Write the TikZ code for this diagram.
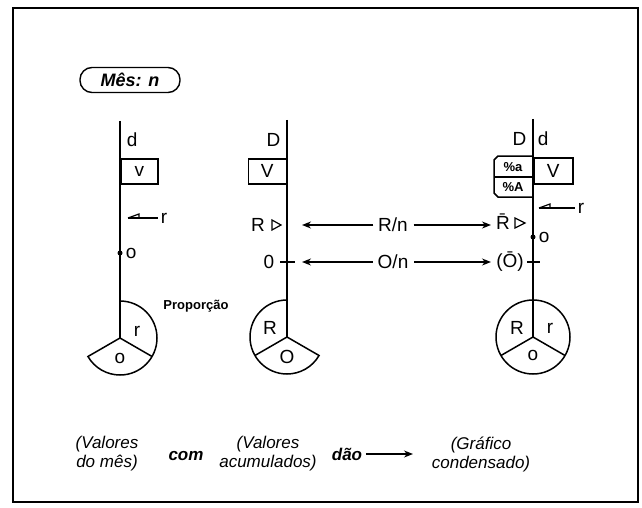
\documentclass[tikz,border=0pt]{standalone}
\usepackage{fontspec}
\setmainfont{Liberation Sans}
\usetikzlibrary{arrows.meta}
\begin{document}
\begin{tikzpicture}[x=1pt,y=1pt,line width=1.5pt,
  lbl/.style={font=\fontsize{19}{21}\selectfont,inner sep=0pt},
  small/.style={font=\bfseries\fontsize{13}{14}\selectfont,inner sep=0pt},
  boxv/.style={draw,lbl,minimum height=25pt},
  captxt/.style={font=\itshape\fontsize{17}{19}\selectfont,align=center,inner sep=0pt},
  captb/.style={font=\bfseries\itshape\fontsize{17}{19}\selectfont,inner sep=0pt},
  arr/.style={-{Stealth[length=9pt,width=7pt]},line width=1.4pt}]
\useasboundingbox (0,0) rectangle (642,-508);
\draw[line width=1.6pt] (13,-8) rectangle (638,-502);
% title
\node[draw,rounded corners=12pt,minimum width=100pt,minimum height=25pt,
  font=\bfseries\itshape\fontsize{18}{20}\selectfont,line width=1.4pt] (mes) at (130,-80) {Mês: n};
% ---------- left column
\coordinate (lt) at (120,-121);
\coordinate (lc) at (120,-338);
\draw (lt) -- (lc);
\node[lbl,anchor=west] (ld) at (126,-140) {d};
\node[boxv,minimum width=37pt,anchor=north west] (lv) at (120,-158) {v};
\coordinate (lrt) at (128,-218);
\node[lbl,anchor=west] (lr) at (160,-218) {r};
\draw[line width=1.2pt] (lrt) -- ++(11,4) -- ++(0,-4);
\draw[line width=1.2pt] (lrt) -- ([xshift=-2pt]lr.west);
\fill (120,-253) circle (2.5pt);
\node[lbl,anchor=west] (lo) at (125,-253) {o};
\draw (lc) ++(90:37) arc[start angle=90,end angle=-150,radius=37] -- (lc) -- ++(-30:37);
\node[lbl] (lpr) at (137,-331) {r};
\node[lbl] (lpo) at (120,-358) {o};
\node[font=\bfseries\fontsize{13}{14}\selectfont,inner sep=0pt] (prop) at (196,-306) {Proporção};
% ---------- middle column
\coordinate (mt) at (287,-120);
\coordinate (mc) at (287,-337);
\draw (mt) -- (mc);
\node[lbl,anchor=east] (mD) at (281,-140) {D};
\node[boxv,minimum width=38pt,anchor=north east] (mV) at (287,-158) {V};
\node[lbl] (mR) at (258,-225) {R};
\draw[line width=1.2pt] (272,-220) -- (281,-225) -- (272,-230) -- cycle;
\node[lbl] (m0) at (269,-262) {0};
\draw (280,-262) -- (295,-262);
\coordinate (mRa) at (302,-225);
\coordinate (mOa) at (302,-262);
\draw (mc) ++(90:37) arc[start angle=90,end angle=330,radius=37] -- (mc) -- ++(210:37);
\node[lbl] (mpR) at (270,-328) {R};
\node[lbl] (mpO) at (287,-357) {O};
% ---------- connectors
\node[lbl] (Rn) at (393,-225) {R/n};
\node[lbl] (On) at (393,-262) {O/n};
% ---------- right column
\coordinate (rt) at (533,-119);
\coordinate (rc) at (533,-337);
\draw (rt) -- (rc);
\node[lbl,anchor=east] (rD) at (527,-139) {D};
\node[lbl,anchor=west] (rd) at (537,-139) {d};
\node[boxv,minimum width=39pt,minimum height=26pt,anchor=north west] (rV) at (533,-157) {V};
\draw (533,-156) -- (498,-156) -- (494,-160) -- (494,-193) -- (498,-197) -- (533,-197);
\draw (494,-177) -- (533,-177);
\node[small] (rpa) at (513,-167) {\%a};
\node[small] (rpA) at (513,-187) {\%A};
\coordinate (rrt) at (539,-208);
\node[lbl,anchor=west] (rr) at (577,-208) {r};
\draw[line width=1.2pt] (rrt) -- ++(11,4) -- ++(0,-4);
\draw[line width=1.2pt] (rrt) -- ([xshift=-2pt]rr.west);
\node[lbl] (rRb) at (503,-222) {\={R}};
\draw[line width=1.2pt] (515,-218) -- (525,-223) -- (515,-228) -- cycle;
\coordinate (rRa) at (491,-225);
\fill (533,-237) circle (2.5pt);
\node[lbl,anchor=west] (ro) at (538,-237) {o};
\node[lbl] (rOb) at (510,-262) {(\={O})};
\coordinate (rOa) at (491,-262);
\draw (527,-262) -- (540,-262);
\draw (rc) circle (37);
\draw (rc) -- ++(-30:37);
\draw (rc) -- ++(210:37);
\node[lbl] (rpR) at (517,-328) {R};
\node[lbl] (rpr) at (550,-328) {r};
\node[lbl] (rpo) at (533,-355) {o};
% arrows
\draw[arr,shorten <=4pt] (Rn.west) -- (mRa);
\draw[arr,shorten <=5pt] (Rn.east) -- (rRa);
\draw[arr,shorten <=4pt] (On.west) -- (mOa);
\draw[arr,shorten <=5pt] (On.east) -- (rOa);
% ---------- captions
\node[captxt] (c1) at (107,-454) {(Valores\\do mês)};
\node[captb] (c2) at (186,-456) {com};
\node[captxt] (c3) at (268,-454) {(Valores\\acumulados)};
\node[captb] (c4) at (347,-454) {dão};
\coordinate (c4e) at (413,-454);
\draw[arr] ([xshift=3pt]c4.east) -- (c4e);
\node[captxt] (c5) at (481,-454) {(Gráfico\\condensado)};
\end{tikzpicture}
\end{document}
